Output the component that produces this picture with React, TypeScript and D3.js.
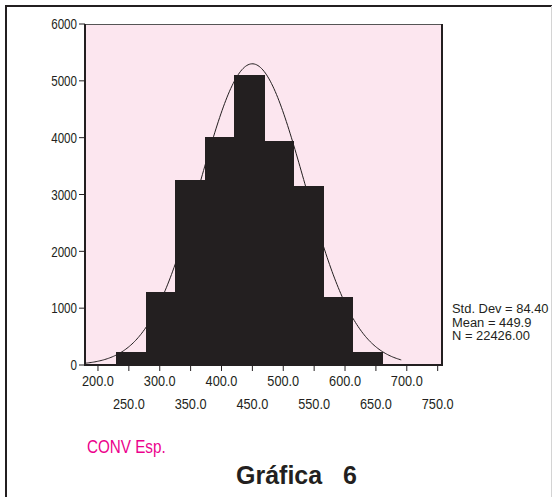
import React from 'react';
import * as d3 from 'd3';

// histogram bins (centres, width 50) and counts
const binCenters = [250, 300, 350, 400, 450, 500, 550, 600, 650];
const binCounts = [230, 1290, 3260, 4010, 5100, 3950, 3150, 1200, 230];
const binWidth = 50;

const yTicks = [0, 1000, 2000, 3000, 4000, 5000, 6000];
const xTicks = [200, 250, 300, 350, 400, 450, 500, 550, 600, 650, 700, 750];

const stdDev = 84.4;
const mean = 449.9;
const nCases = 22426;
const statLines = ['Std. Dev = 84.40', 'Mean = 449.9', 'N = 22426.00'];

const W = 552;
const H = 497;
const plot = { left: 85, right: 442, top: 24, bottom: 365 };
const ink = '#231f20';
const font = '"Liberation Sans", Arial, Helvetica, sans-serif';

// narrow Helvetica look: squeeze the text horizontally
const NText: React.FC<{
  x: number; y: number; size: number; sx?: number; anchor?: string;
  fill?: string; dy?: string; children: React.ReactNode;
}> = ({ x, y, size, sx = 0.84, anchor = 'start', fill = ink, dy, children }) => (
  <text
    transform={`translate(${x},${y}) scale(${sx},1)`}
    textAnchor={anchor}
    fontSize={size}
    fontFamily={font}
    fill={fill}
    dy={dy}
  >
    {children}
  </text>
);

export default function App() {
  const x = d3.scaleLinear().domain([179, 757]).range([plot.left, plot.right]);
  const y = d3.scaleLinear().domain([0, 6000]).range([plot.bottom, plot.top]);
  // SPSS draws the bars a touch narrower / left of the tick grid
  const xBar = d3.scaleLinear().domain([225, 675]).range([116, 382]);

  // fitted normal curve from the stats shown in the legend
  const peak = (nCases * binWidth) / (stdDev * Math.sqrt(2 * Math.PI));
  const curvePts = d3.range(179, 693, 2).map(v => [v, peak * Math.exp(-0.5 * ((v - mean) / stdDev) ** 2)]);
  const curve = d3.line<number[]>().x(d => x(d[0])).y(d => y(d[1])).curve(d3.curveBasis)(curvePts);

  return (
    <svg width={W} height={H} style={{ position: 'absolute', left: 0, top: 0, background: '#fff' }}>
      {/* outer frame */}
      <line x1={6} y1={6} x2={6} y2={H} stroke={ink} strokeWidth={2} />
      <line x1={5} y1={6} x2={W} y2={6} stroke={ink} strokeWidth={2} />
      <line x1={551.5} y1={6} x2={551.5} y2={H} stroke="#d4d4d4" strokeWidth={1} />

      {/* plot background */}
      <rect x={plot.left} y={plot.top} width={plot.right - plot.left} height={plot.bottom - plot.top} fill="#fce6ef" />

      {/* bars */}
      <g shapeRendering="crispEdges">
        {binCenters.map((c, i) => (
          <rect
            key={c}
            x={Math.round(xBar(c - binWidth / 2))}
            y={Math.round(y(binCounts[i]))}
            width={Math.round(xBar(c + binWidth / 2)) - Math.round(xBar(c - binWidth / 2)) + 1}
            height={Math.round(y(0)) - Math.round(y(binCounts[i]))}
            fill={ink}
          />
        ))}
      </g>

      {/* normal curve */}
      <path d={curve || ''} fill="none" stroke={ink} strokeWidth={1} />

      {/* plot border */}
      <line x1={plot.left} y1={plot.top + 0.5} x2={plot.right} y2={plot.top + 0.5} stroke="#555" strokeWidth={1.2} />
      <line x1={plot.right} y1={plot.top} x2={plot.right} y2={plot.bottom} stroke={ink} strokeWidth={2} />
      <line x1={plot.left} y1={plot.top} x2={plot.left} y2={plot.bottom + 1} stroke={ink} strokeWidth={2} />
      <line x1={plot.left} y1={plot.bottom} x2={plot.right + 1} y2={plot.bottom} stroke={ink} strokeWidth={2} />

      {/* y axis */}
      {yTicks.map(t => (
        <g key={t}>
          <line x1={plot.left - 6} x2={plot.left} y1={y(t)} y2={y(t)} stroke={ink} strokeWidth={1} />
          <NText x={plot.left - 8} y={y(t)} size={14.5} sx={0.8} anchor="end" dy="0.36em">{t}</NText>
        </g>
      ))}

      {/* x axis */}
      {xTicks.map((t, i) => (
        <g key={t}>
          <line x1={x(t)} x2={x(t)} y1={plot.bottom + 1} y2={plot.bottom + 6} stroke={ink} strokeWidth={1} />
          <NText x={x(t)} y={i % 2 === 0 ? 386 : 409} size={15} sx={0.85} anchor="middle">{t.toFixed(1)}</NText>
        </g>
      ))}

      {/* stats */}
      {statLines.map((s, i) => (
        <NText key={s} x={452} y={313 + i * 13.6} size={12.3} sx={1.05}>{s}</NText>
      ))}

      <NText x={87} y={453} size={17.5} sx={0.87} fill="#ec008c">CONV Esp.</NText>

      <text x={236} y={484} fontSize={25} fontWeight="bold" fontFamily={font} fill={ink}>Gráfica</text>
      <text x={343} y={484} fontSize={25} fontWeight="bold" fontFamily={font} fill={ink}>6</text>
    </svg>
  );
}
